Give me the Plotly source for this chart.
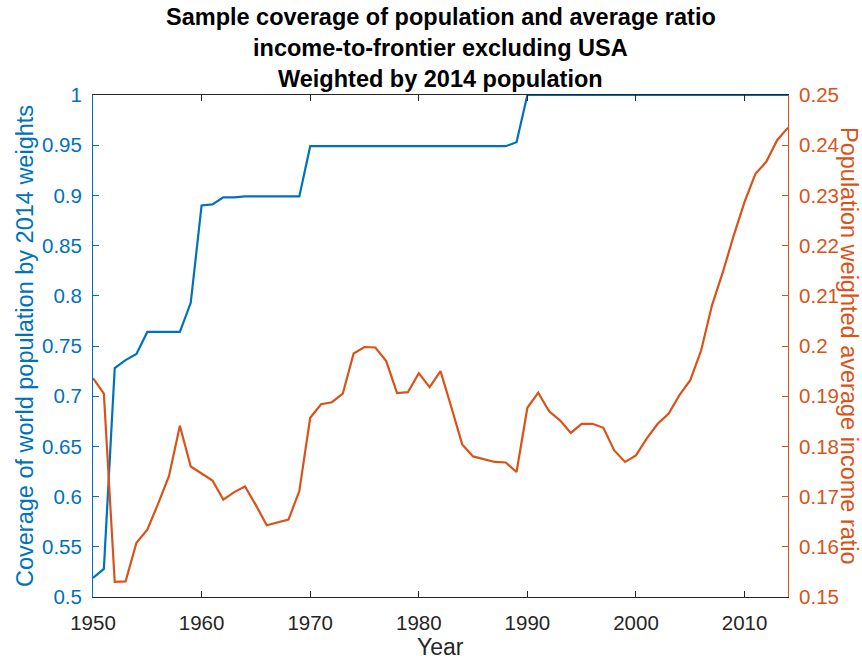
import plotly.graph_objects as go

# Years covered by both series
years = list(range(1950, 2015))

# Share of world population (2014 weights) covered by the sample
coverage = [
    0.519, 0.528, 0.728, 0.736, 0.742, 0.764, 0.764, 0.764, 0.764, 0.793,  # 1950-1959
    0.890, 0.891, 0.898, 0.898, 0.899, 0.899, 0.899, 0.899, 0.899, 0.899,  # 1960-1969
    0.949, 0.949, 0.949, 0.949, 0.949, 0.949, 0.949, 0.949, 0.949, 0.949,  # 1970-1979
    0.949, 0.949, 0.949, 0.949, 0.949, 0.949, 0.949, 0.949, 0.949, 0.953,  # 1980-1989
    1.0, 1.0, 1.0, 1.0, 1.0, 1.0, 1.0, 1.0, 1.0, 1.0,                      # 1990-1999
    1.0, 1.0, 1.0, 1.0, 1.0, 1.0, 1.0, 1.0, 1.0, 1.0,                      # 2000-2009
    1.0, 1.0, 1.0, 1.0, 1.0,                                               # 2010-2014
]

# Population-weighted average income-to-frontier ratio (excluding USA)
income_ratio = [
    0.1936, 0.1905, 0.1530, 0.1531, 0.1608, 0.1634, 0.1686, 0.1741, 0.1841, 0.1760,  # 1950s
    0.1746, 0.1732, 0.1694, 0.1709, 0.1720, 0.1683, 0.1643, 0.1649, 0.1654, 0.1711,  # 1960s
    0.1857, 0.1884, 0.1888, 0.1905, 0.1985, 0.1998, 0.1997, 0.1970, 0.1906, 0.1908,  # 1970s
    0.1946, 0.1918, 0.1950, 0.1878, 0.1804, 0.1780, 0.1774, 0.1769, 0.1768, 0.1749,  # 1980s
    0.1877, 0.1907, 0.1870, 0.1852, 0.1827, 0.1845, 0.1845, 0.1837, 0.1792, 0.1769,  # 1990s
    0.1782, 0.1816, 0.1845, 0.1865, 0.1902, 0.1932, 0.1991, 0.2081, 0.2147, 0.2220,  # 2000s
    0.2287, 0.2343, 0.2367, 0.2410, 0.2435,                                          # 2010-2014
]

x_ticks = [1950, 1960, 1970, 1980, 1990, 2000, 2010]
left_ticks = [0.5, 0.55, 0.6, 0.65, 0.7, 0.75, 0.8, 0.85, 0.9, 0.95, 1.0]
left_labels = ["0.5", "0.55", "0.6", "0.65", "0.7", "0.75", "0.8", "0.85", "0.9", "0.95", "1"]
right_ticks = [0.15, 0.16, 0.17, 0.18, 0.19, 0.2, 0.21, 0.22, 0.23, 0.24, 0.25]
right_labels = ["0.15", "0.16", "0.17", "0.18", "0.19", "0.2", "0.21", "0.22", "0.23", "0.24", "0.25"]

BLUE = "#0072BD"
ORANGE = "#D95319"
DARK = "#262626"
FONT = "Liberation Sans, Arial, Helvetica, sans-serif"
TICK_SIZE = 20.5
LABEL_SIZE = 23.5

fig = go.Figure()
fig.add_trace(go.Scatter(
    x=years, y=coverage, mode="lines",
    line=dict(color=BLUE, width=2.2), yaxis="y", showlegend=False,
))
fig.add_trace(go.Scatter(
    x=years, y=income_ratio, mode="lines",
    line=dict(color=ORANGE, width=2.2), yaxis="y2", showlegend=False,
))

fig.update_layout(
    width=862, height=661,
    margin=dict(l=93, r=74, t=95, b=64),
    paper_bgcolor="white", plot_bgcolor="white",
    font=dict(family=FONT, size=TICK_SIZE, color=DARK),
    xaxis=dict(
        range=[1950, 2014], tickvals=x_ticks, ticktext=[str(v) for v in x_ticks],
        ticks="inside", ticklen=6, tickwidth=1, tickcolor=DARK,
        showline=True, linecolor=DARK, linewidth=1, mirror="ticks",
        showgrid=False, zeroline=False,
        tickfont=dict(size=TICK_SIZE, color=DARK),
        ticklabelstandoff=7,
    ),
    yaxis=dict(
        range=[0.5, 1.0], tickvals=left_ticks, ticktext=left_labels,
        ticks="inside", ticklen=6, tickwidth=1, tickcolor=BLUE,
        showline=True, linecolor=BLUE, linewidth=1,
        showgrid=False, zeroline=False,
        tickfont=dict(size=TICK_SIZE, color=BLUE),
        ticklabelstandoff=6,
    ),
    yaxis2=dict(
        range=[0.15, 0.25], tickvals=right_ticks, ticktext=right_labels,
        overlaying="y", side="right",
        ticks="inside", ticklen=6, tickwidth=1, tickcolor=ORANGE,
        showline=True, linecolor=ORANGE, linewidth=1,
        showgrid=False, zeroline=False,
        tickfont=dict(size=TICK_SIZE, color=ORANGE),
        ticklabelstandoff=6,
    ),
)

# Three-line bold title
title_lines = [
    "Sample coverage of population and average ratio",
    "income-to-frontier excluding USA",
    "Weighted by 2014 population",
]
for i, line in enumerate(title_lines):
    fig.add_annotation(
        text=f"<b>{line}</b>", xref="paper", yref="paper",
        x=0.5, y=1.0, yshift=78 - 31 * i, xanchor="center", yanchor="middle",
        showarrow=False, font=dict(family=FONT, size=23.5, color="black"),
    )

# Axis labels
fig.add_annotation(
    text="Year", xref="paper", yref="paper", x=0.5, y=0, yshift=-50,
    xanchor="center", yanchor="middle", showarrow=False,
    font=dict(family=FONT, size=23, color=DARK),
)
fig.add_annotation(
    text="Coverage of world population by 2014 weights",
    xref="paper", yref="paper", x=0, y=0.5, xshift=-68, xanchor="center", yanchor="middle",
    textangle=-90, showarrow=False, font=dict(family=FONT, size=LABEL_SIZE, color=BLUE),
)
fig.add_annotation(
    text="Population weighted average income ratio",
    xref="paper", yref="paper", x=1, y=0.5, xshift=61, xanchor="center", yanchor="middle",
    textangle=90, showarrow=False, font=dict(family=FONT, size=LABEL_SIZE, color=ORANGE),
)

fig.write_html("out.html")
